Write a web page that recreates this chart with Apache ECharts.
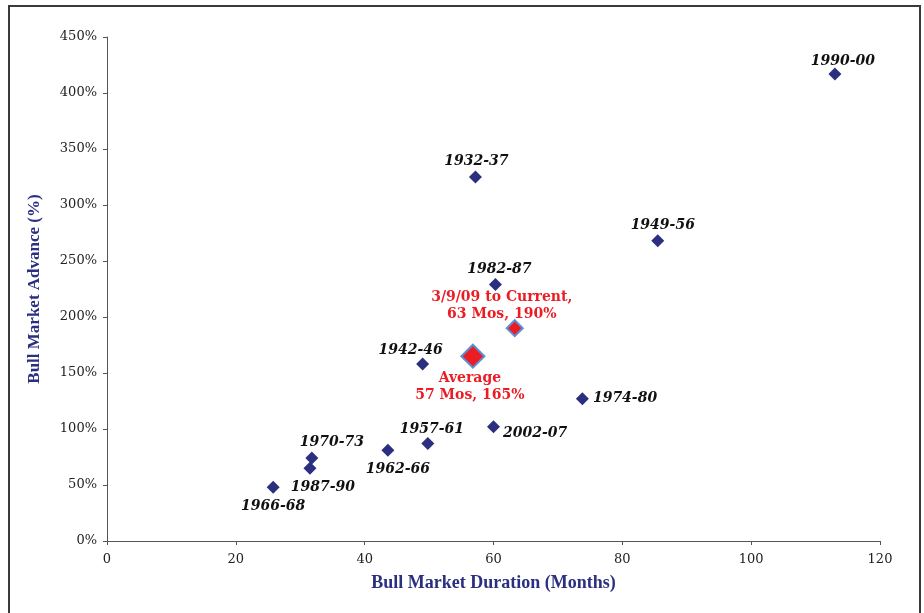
<!DOCTYPE html>
<html>
<head>
<meta charset="utf-8">
<script src="https://cdn.jsdelivr.net/npm/echarts@6/dist/echarts.min.js"></script>
<style>
  html, body { margin: 0; padding: 0; background: #fff; }
  #frame { position: absolute; left: 8px; top: 5px; width: 909px; height: 700px; border: 2px solid #3a3a3a; }
  #chart { position: absolute; left: 0; top: 0; width: 924px; height: 613px; }
</style>
</head>
<body>
<div id="frame"></div>
<div id="chart"></div>
<script>
// bull markets: duration (months) vs advance (%)
const periods = ['1990-00', '1932-37', '1949-56', '1982-87', '1942-46', '1974-80', '2002-07', '1957-61', '1962-66', '1970-73', '1987-90', '1966-68']
const durations = [113, 57.2, 85.5, 60.3, 49, 73.8, 60, 49.8, 43.6, 31.8, 31.5, 25.8]
const advances = [417, 325, 268, 229, 158, 127, 102, 87, 81, 74, 65, 48]

const avgLabel = 'Average\n57 Mos, 165%'
const avgPoint = [56.8, 165]
const currentLabel = '3/9/09 to Current,\n63 Mos, 190%'
const currentPoint = [63.3, 190]

const xTicks = [0, 20, 40, 60, 80, 100, 120]
const yTicks = [0, 50, 100, 150, 200, 250, 300, 350, 400, 450]

const NAVY = '#2b2f80'
const RED = '#ec1c24'
const SERIF = '"DejaVu Serif", "Liberation Serif", serif'

// where each period label sits around its marker
const labelPlace = {
  '1990-00': { position: 'top', offset: [8, 3] },
  '1932-37': { position: 'top', offset: [1, 0] },
  '1949-56': { position: 'top', offset: [5, 0] },
  '1982-87': { position: 'top', offset: [4, 0] },
  '1942-46': { position: 'top', offset: [-12, 2] },
  '1974-80': { position: 'right', offset: [2, 0] },
  '2002-07': { position: 'right', offset: [1, 7] },
  '1957-61': { position: 'top', offset: [4, 1] },
  '1962-66': { position: 'bottom', offset: [10, 4] },
  '1970-73': { position: 'top', offset: [20, 0] },
  '1987-90': { position: 'bottom', offset: [13, 4] },
  '1966-68': { position: 'bottom', offset: [0, 4] }
}

const chart = echarts.init(document.getElementById('chart'))

const histData = periods.map((p, i) => ({
  name: p,
  value: [durations[i], advances[i]],
  label: labelPlace[p]
}))

const option = {
  animation: false,
  grid: { left: 107, right: 44, top: 37, bottom: 72, containLabel: false },
  xAxis: {
    type: 'value',
    min: xTicks[0],
    max: xTicks[xTicks.length - 1],
    interval: 20,
    name: 'Bull Market Duration (Months)',
    nameLocation: 'middle',
    nameGap: 33,
    nameTextStyle: { color: NAVY, fontFamily: '"Liberation Serif", serif', fontWeight: 'bold', fontSize: 18 },
    axisLine: { lineStyle: { color: '#555', width: 1 } },
    axisTick: { show: true, length: 4, lineStyle: { color: '#555' } },
    splitLine: { show: false },
    axisLabel: { color: '#222', fontFamily: SERIF, fontSize: 13, margin: 12 }
  },
  yAxis: {
    type: 'value',
    min: yTicks[0],
    max: yTicks[yTicks.length - 1],
    interval: 50,
    name: 'Bull Market Advance (%)',
    nameLocation: 'middle',
    nameGap: 64,
    nameRotate: 90,
    nameTextStyle: { color: NAVY, fontFamily: '"Liberation Serif", serif', fontWeight: 'bold', fontSize: 17 },
    axisLine: { show: true, lineStyle: { color: '#555', width: 1 } },
    axisTick: { show: true, length: 4, lineStyle: { color: '#555' } },
    splitLine: { show: false },
    axisLabel: { color: '#222', fontFamily: SERIF, fontSize: 13, margin: 10, formatter: v => v + '%' }
  },
  series: [
    {
      name: 'Bull Markets',
      type: 'scatter',
      symbol: 'diamond',
      symbolSize: 13,
      itemStyle: { color: NAVY, opacity: 1 },
      label: {
        show: true,
        formatter: p => p.name,
        color: '#111',
        opacity: 1,
        fontFamily: SERIF,
        fontStyle: 'italic',
        fontWeight: 'bold',
        fontSize: 14,
        distance: 2
      },
      data: histData
    },
    {
      name: 'Average',
      type: 'scatter',
      symbol: 'diamond',
      symbolSize: 23,
      itemStyle: { color: RED, borderColor: '#5b8fd4', borderWidth: 2, opacity: 1 },
      label: {
        show: true,
        position: 'bottom',
        distance: 6,
        offset: [-3, -5],
        formatter: avgLabel,
        color: RED,
        opacity: 1,
        fontFamily: SERIF,
        fontWeight: 'bold',
        fontSize: 14,
        lineHeight: 17
      },
      data: [avgPoint]
    },
    {
      name: 'Current',
      type: 'scatter',
      symbol: 'diamond',
      symbolSize: 16,
      itemStyle: { color: RED, borderColor: '#5b8fd4', borderWidth: 2, opacity: 1 },
      label: {
        show: true,
        position: 'top',
        distance: 5,
        offset: [-13, 9],
        formatter: currentLabel,
        color: RED,
        opacity: 1,
        fontFamily: SERIF,
        fontWeight: 'bold',
        fontSize: 14,
        lineHeight: 17
      },
      data: [currentPoint]
    }
  ]
}

chart.setOption(option)
</script>
</body>
</html>
